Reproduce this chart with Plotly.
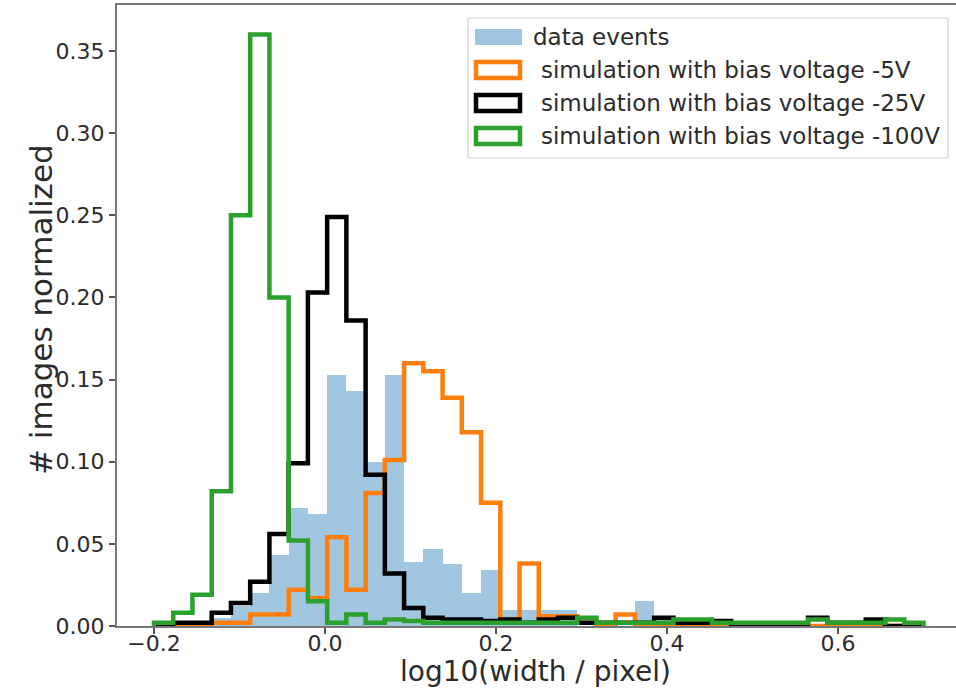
import numpy as np
import plotly.graph_objects as go

# ---------------- data (40 common bins from -0.2 to 0.7) ----------------
bin_lo, bin_hi, n_bins = -0.2, 0.7, 40

data_events = [0, 0, 0, 0.005, 0.012, 0.020, 0.043, 0.072, 0.068, 0.153,
               0.143, 0.100, 0.153, 0.039, 0.047, 0.038, 0.020, 0.034, 0.010, 0.010,
               0.010, 0.010, 0, 0, 0, 0.015, 0.005, 0.005, 0, 0,
               0, 0, 0, 0, 0, 0, 0, 0, 0, 0]

sim_5V = [0, 0, 0, 0.002, 0.002, 0.007, 0.007, 0.022, 0.017, 0.054,
          0.022, 0.081, 0.101, 0.160, 0.155, 0.139, 0.118, 0.075, 0.004, 0.038,
          0.006, 0.006, 0.002, 0, 0.007, 0, 0, 0, 0, 0,
          0, 0, 0, 0, 0, 0, 0, 0, 0, 0]

sim_25V = [0, 0.002, 0.002, 0.008, 0.014, 0.027, 0.056, 0.099, 0.203, 0.249,
           0.186, 0.092, 0.032, 0.011, 0.005, 0.004, 0.004, 0.003, 0.004, 0.002,
           0.004, 0.005, 0.002, 0.002, 0.002, 0.002, 0.005, 0.002, 0.002, 0.003,
           0, 0, 0, 0, 0.005, 0.002, 0.002, 0.004, 0, 0]

sim_100V = [0.002, 0.008, 0.019, 0.082, 0.250, 0.360, 0.200, 0.052, 0.015, 0.002,
            0.007, 0.002, 0.004, 0.003, 0.002, 0.002, 0.002, 0.002, 0.002, 0.002,
            0.002, 0.002, 0.005, 0.002, 0.002, 0.002, 0.002, 0.004, 0.004, 0.002,
            0.002, 0.002, 0.002, 0.002, 0.004, 0.002, 0.002, 0.002, 0.004, 0.002]

series_names = ["data events",
                "simulation with bias voltage -5V",
                "simulation with bias voltage -25V",
                "simulation with bias voltage -100V"]

x_ticks = [-0.2, 0.0, 0.2, 0.4, 0.6]
y_ticks = [0.00, 0.05, 0.10, 0.15, 0.20, 0.25, 0.30, 0.35]

# ---------------- styles ----------------
W, H = 956, 695
L, R, T, B = 117, 0, 5, 69
C_BLUE = "rgba(31,119,180,0.42)"
C_ORANGE = "#ff7f0e"
C_BLACK = "#000000"
C_GREEN = "#2ca02c"
FONT = "DejaVu Sans"
TXT = "#2b2b2b"

edges = np.linspace(bin_lo, bin_hi, n_bins + 1)
centers = (edges[:-1] + edges[1:]) / 2
bw = edges[1] - edges[0]


def step_xy(vals):
    xs = [edges[0]] + list(edges[:-1]) + [edges[-1]]
    ys = [0] + list(vals) + [0]
    return xs, ys


fig = go.Figure()
fig.add_trace(go.Bar(x=centers, y=data_events, width=bw, marker=dict(color=C_BLUE, line=dict(width=0)),
                     showlegend=False))
for vals, col in [(sim_5V, C_ORANGE), (sim_25V, C_BLACK), (sim_100V, C_GREEN)]:
    xs, ys = step_xy(vals)
    fig.add_trace(go.Scatter(x=xs, y=ys, mode="lines", line=dict(color=col, width=4.5, shape="hv"),
                             showlegend=False))

# pixel -> paper helpers (layout decorations only)
PW, PH = W - L - R, H - T - B


def px(xp):
    return (xp - L) / PW


def py(yp):
    return (H - B - yp) / PH


shapes = []
annotations = []

# legend box
shapes.append(dict(type="rect", xref="paper", yref="paper", x0=px(468), x1=px(948), y0=py(158), y1=py(18),
                   line=dict(color="#d0d0d0", width=1.2), fillcolor="rgba(255,255,255,0.8)", layer="above"))
legend_rows = [37, 70, 103, 136]
legend_cols = [C_BLUE, C_ORANGE, C_BLACK, C_GREEN]
for i, (yc, col, name) in enumerate(zip(legend_rows, legend_cols, series_names)):
    if i == 0:
        shapes.append(dict(type="rect", xref="paper", yref="paper", x0=px(475), x1=px(522),
                           y0=py(yc + 8), y1=py(yc - 8), line=dict(width=0), fillcolor=C_BLUE, layer="above"))
        tx = 531
    else:
        shapes.append(dict(type="rect", xref="paper", yref="paper", x0=px(476), x1=px(520),
                           y0=py(yc + 8), y1=py(yc - 8), line=dict(width=4.5, color=col),
                           fillcolor="white", layer="above"))
        tx = 539
    annotations.append(dict(text=name, xref="paper", yref="paper", x=px(tx), y=py(yc), xanchor="left",
                            yanchor="middle", showarrow=False, font=dict(family=FONT, size=23, color=TXT)))

# axis titles
annotations.append(dict(text="log10(width / pixel)", xref="paper", yref="paper", x=px(535), y=py(672),
                        xanchor="center", yanchor="middle", showarrow=False,
                        font=dict(family=FONT, size=28, color=TXT)))
annotations.append(dict(text="# images normalized", xref="paper", yref="paper", x=px(41), y=py(310),
                        xanchor="center", yanchor="middle", showarrow=False, textangle=-90,
                        font=dict(family=FONT, size=31, color=TXT)))

fig.update_layout(
    width=W, height=H, margin=dict(l=L, r=R, t=T, b=B, pad=0),
    paper_bgcolor="white", plot_bgcolor="white",
    bargap=0, barmode="overlay",
    shapes=shapes, annotations=annotations,
    showlegend=False,
)
fig.update_xaxes(range=[(L - 325) / 855, (W - R - 325) / 855],
                 tickvals=x_ticks, ticktext=[f"{v:.1f}".replace("-", "\u2212") for v in x_ticks],
                 ticks="outside", ticklen=6, tickwidth=1.5, tickcolor="#555",
                 ticklabelstandoff=-9,
                 showline=True, linecolor="#777", linewidth=2, mirror=True,
                 showgrid=False, zeroline=False,
                 tickfont=dict(family=FONT, size=22, color=TXT))
fig.update_yaxes(range=[0, 0.378],
                 tickvals=y_ticks, ticktext=[f"{v:.2f}" for v in y_ticks],
                 ticks="outside", ticklen=6, tickwidth=1.5, tickcolor="#555",
                 showline=True, linecolor="#777", linewidth=2,
                 showgrid=False, zeroline=False,
                 tickfont=dict(family=FONT, size=22, color=TXT))

fig.write_html("out.html")
